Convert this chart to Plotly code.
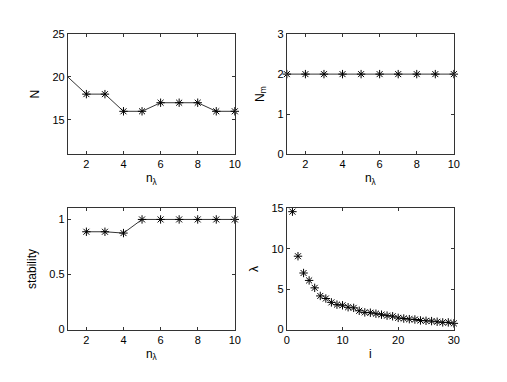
import plotly.graph_objects as go

n_lambda = [1, 2, 3, 4, 5, 6, 7, 8, 9, 10]
N_vals = [20, 18, 18, 16, 16, 17, 17, 17, 16, 16]
Nm_vals = [2, 2, 2, 2, 2, 2, 2, 2, 2, 2]
stab_n = [2, 3, 4, 5, 6, 7, 8, 9, 10]
stab_vals = [0.888, 0.888, 0.876, 1.0, 1.0, 1.0, 1.0, 1.0, 1.0]
i_idx = list(range(1, 31))
lam_vals = [14.6, 9.08, 7.0, 6.08, 5.16, 4.16, 3.84, 3.36, 3.08, 3.0,
            2.76, 2.68, 2.32, 2.12, 2.08, 1.96, 1.84, 1.72, 1.64, 1.44,
            1.36, 1.28, 1.24, 1.12, 1.08, 1.04, 0.96, 0.88, 0.88, 0.76]

FONT = "Liberation Sans, Arial, Helvetica, sans-serif"
mk = dict(symbol="asterisk-open", size=7, color="black",
          line=dict(color="black", width=1))

fig = go.Figure()
fig.add_trace(go.Scatter(x=n_lambda, y=N_vals, mode="lines",
                         line=dict(color="black", width=0.8),
                         xaxis="x", yaxis="y", cliponaxis=False))
fig.add_trace(go.Scatter(x=n_lambda[1:], y=N_vals[1:], mode="markers", marker=mk,
                         xaxis="x", yaxis="y", cliponaxis=False))
fig.add_trace(go.Scatter(x=n_lambda, y=Nm_vals, mode="lines+markers", marker=mk,
                         line=dict(color="black", width=0.8),
                         xaxis="x2", yaxis="y2", cliponaxis=False))
fig.add_trace(go.Scatter(x=stab_n, y=stab_vals, mode="lines+markers", marker=mk,
                         line=dict(color="black", width=0.8),
                         xaxis="x3", yaxis="y3", cliponaxis=False))
fig.add_trace(go.Scatter(x=i_idx, y=lam_vals, mode="markers", marker=mk,
                         xaxis="x4", yaxis="y4", cliponaxis=False))

W, H = 507, 382
def xd(a, b):
    return [a / W, b / W]
def yd(top, bot):
    return [1 - bot / H, 1 - top / H]

ax_common = dict(showline=True, mirror="ticks", linecolor="#333333", linewidth=1,
                 ticks="inside", ticklen=3, tickcolor="#333333",
                 showgrid=False, zeroline=False,
                 tickfont=dict(family=FONT, size=11, color="black"))

def xa(dom, rng, tickvals, title, anchor):
    d = dict(ax_common)
    d.update(domain=dom, range=rng, tickvals=tickvals, anchor=anchor,
             title=dict(text=title, standoff=4, font=dict(family=FONT, size=12, color="black")))
    return d

def ya(dom, rng, tickvals, ticktext, title, anchor):
    d = dict(ax_common)
    d.update(domain=dom, range=rng, tickvals=tickvals, ticktext=ticktext, anchor=anchor,
             title=dict(text=title, standoff=10, font=dict(family=FONT, size=12, color="black")))
    return d

fig.update_layout(
    width=W, height=H,
    margin=dict(l=0, r=0, t=0, b=0),
    paper_bgcolor="white", plot_bgcolor="white",
    showlegend=False,
    font=dict(family=FONT, size=11, color="black"),
    xaxis=xa(xd(66, 236), [1, 10], [2, 4, 6, 8, 10], "n<sub>λ</sub>", "y"),
    yaxis=ya(yd(29, 153), [11, 25], [15, 20, 25], ["15", "20", "25"], "N", "x"),
    xaxis2=xa(xd(289, 459), [1, 10], [2, 4, 6, 8, 10], "n<sub>λ</sub>", "y2"),
    yaxis2=ya(yd(29, 153), [0, 3], [0, 1, 2, 3], ["0", "1", "2", "3"], "N<sub>m</sub>", "x2"),
    xaxis3=xa(xd(66, 236), [1, 10], [2, 4, 6, 8, 10], "n<sub>λ</sub>", "y3"),
    yaxis3=ya(yd(209, 334), [0, 1.1], [0, 0.5, 1], ["0", "0.5", "1"], "stability", "x3"),
    xaxis4=xa(xd(289, 459), [0, 30], [0, 10, 20, 30], "i", "y4"),
    yaxis4=ya(yd(209, 334), [0, 15], [0, 5, 10, 15], ["0", "5", "10", "15"], "λ", "x4"),
)

fig.write_html("out.html", config={"displayModeBar": False},
               post_script="document.body.style.margin='0';document.body.style.overflow='hidden';")
